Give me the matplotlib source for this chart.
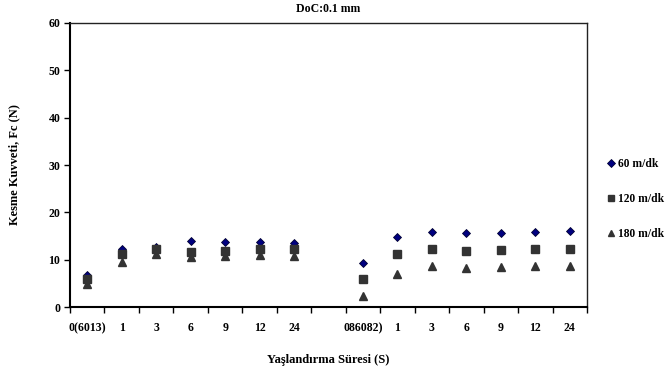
import matplotlib
matplotlib.use("Agg")
import matplotlib.pyplot as plt
import numpy as np

plt.rcParams['font.family'] = ['Liberation Serif', 'DejaVu Serif']
plt.rcParams['font.weight'] = 'bold'

# aging time categories for the two alloys; empty slot separates the groups
categories = ['0(6013)', '1', '3', '6', '9', '12', '24', '',
              '086082)', '1', '3', '6', '9', '12', '24']

# cutting force Fc (N) per cutting speed, None where no sample
fc_60 = [6.8, 12.2, 12.7, 14.0, 13.8, 13.8, 13.6, None,
         9.4, 14.7, 15.8, 15.6, 15.7, 15.8, 16.1]
fc_120 = [5.9, 11.3, 12.2, 11.7, 11.9, 12.2, 12.2, None,
          5.9, 11.2, 12.3, 11.8, 12.0, 12.3, 12.3]
fc_180 = [4.8, 9.5, 11.2, 10.6, 10.8, 10.9, 10.8, None,
          2.4, 7.0, 8.7, 8.2, 8.4, 8.7, 8.7]


def to_arr(vals):
    return np.array([np.nan if v is None else v for v in vals], dtype=float)


fig = plt.figure(figsize=(6.68, 3.70), dpi=100)
ax = fig.add_axes([0.1048, 0.170, 0.774, 0.768])

x = np.arange(len(categories))
ax.plot(x, to_arr(fc_60), linestyle='none', marker='D', ms=4.3,
        mfc='#000080', mec='#000033', mew=0.6, label='60 m/dk')
ax.plot(x, to_arr(fc_120), linestyle='none', marker='s', ms=5.3,
        mfc='#333333', mec='#333333', label='120 m/dk')
ax.plot(x, to_arr(fc_180), linestyle='none', marker='^', ms=5.8,
        mfc='#333333', mec='#333333', label='180 m/dk')

ax.set_xlim(-0.5, len(categories) - 0.5)
ax.set_ylim(0, 60)
ax.set_yticks(np.arange(0, 61, 10))

# category labels centred, tick marks on the boundaries
ax.set_xticks(x)
ax.set_xticklabels(categories)
ax.set_xticks(np.arange(-0.5, len(categories), 1), minor=True)
ax.tick_params(axis='x', which='major', length=0, pad=11, labelsize=8.5)
ax.tick_params(axis='x', which='minor', length=4, width=1, direction='out')
ax.tick_params(axis='y', length=4, width=1, direction='out', labelsize=8.5, pad=3)

for side in ['left', 'bottom']:
    ax.spines[side].set_linewidth(1.5)
for side in ['top', 'right']:
    ax.spines[side].set_linewidth(1.0)
    ax.spines[side].set_color('#222222')

ax.set_title('DoC:0.1 mm', fontsize=8.5, fontweight='bold', pad=8)
ax.set_ylabel('Kesme Kuvveti, Fc (N)', fontsize=9, fontweight='bold')
ax.yaxis.set_label_coords(-0.097, 0.5)
ax.set_xlabel('Yaşlandırma Süresi (S)', fontsize=9, fontweight='bold')
ax.xaxis.set_label_coords(0.5, -0.165)

ax.legend(loc='upper left', bbox_to_anchor=(1.027, 0.54), frameon=False,
          fontsize=8.3, labelspacing=2.0, handletextpad=0.05, handlelength=1,
          markerscale=0.85, borderaxespad=0)

fig.savefig('out.png', dpi=100)
